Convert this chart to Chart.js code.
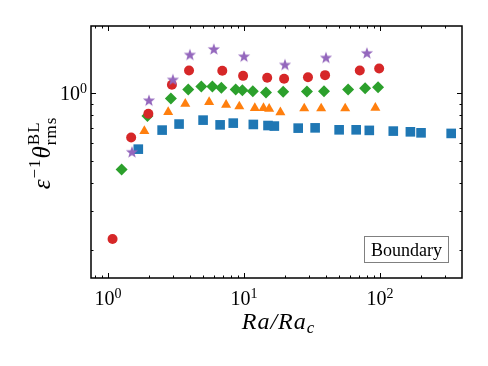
<!DOCTYPE html>
<html lang="en">

<head>
    <meta charset="UTF-8">
    <title>Boundary theta rms</title>
    <script src="https://cdn.jsdelivr.net/npm/chart.js"></script>
    <style>
        body { margin: 0; background: #fff; }
        #wrap { width: 488px; height: 366px; }
    </style>
</head>

<body>
    <div id="wrap"><canvas id="myChart"></canvas></div>
    <script>
        // Ra/Ra_c and eps^-1 theta_rms^BL
        var blueX = [1.67, 2.5, 3.33, 5.0, 6.67, 8.33, 11.7, 15.0, 16.7, 25.0, 33.3, 50.0, 66.7, 83.3, 125, 167, 200, 333];
        var blueY = [0.564, 0.686, 0.73, 0.76, 0.724, 0.737, 0.727, 0.719, 0.715, 0.70, 0.702, 0.688, 0.688, 0.684, 0.679, 0.674, 0.667, 0.663];

        var orangeX = [1.85, 2.77, 3.7, 5.54, 7.38, 9.23, 12.0, 13.9, 15.3, 18.5, 27.7, 36.9, 55.4, 92.3];
        var orangeY = [0.679, 0.825, 0.899, 0.915, 0.889, 0.875, 0.86, 0.86, 0.854, 0.823, 0.857, 0.857, 0.857, 0.863];

        var greenX = [1.26, 1.95, 2.9, 3.89, 4.85, 5.85, 6.81, 8.68, 9.72, 11.6, 14.5, 19.4, 29.0, 38.7, 58.2, 77.6, 96.6];
        var greenY = [0.458, 0.792, 0.95, 1.042, 1.074, 1.074, 1.059, 1.042, 1.034, 1.024, 1.01, 1.017, 1.02, 1.024, 1.042, 1.056, 1.067];

        var redX = [1.08, 1.48, 1.98, 2.95, 3.94, 6.92, 9.84, 14.8, 19.7, 29.5, 39.4, 70.9, 98.4];
        var redY = [0.224, 0.636, 0.811, 1.093, 1.267, 1.262, 1.198, 1.174, 1.162, 1.18, 1.207, 1.267, 1.293];

        var purpleX = [1.5, 2, 3, 4, 6, 10, 20, 40, 80];
        var purpleY = [0.549, 0.933, 1.155, 1.493, 1.58, 1.467, 1.347, 1.448, 1.518];

        var xMajor = [1, 10, 100];
        var xMajorExp = ['0', '1', '2'];
        var yMajor = [1];
        var yMajorExp = ['0'];
        var legendText = 'Boundary';

        var serif = '"Liberation Serif", "DejaVu Serif", serif';

        function pts(xs, ys) {
            return xs.map(function (v, i) { return { x: v, y: ys[i] }; });
        }

        // filled 5-point star like matplotlib '*'
        function makeStar(color) {
            var c = document.createElement('canvas');
            c.width = 14; c.height = 14;
            var g = c.getContext('2d');
            g.fillStyle = color;
            g.beginPath();
            for (var i = 0; i < 10; i++) {
                var r = i % 2 == 0 ? 6.4 : 2.6;
                var a = -Math.PI / 2 + i * Math.PI / 5;
                var px = 7 + r * Math.cos(a), py = 7.6 + r * Math.sin(a);
                if (i == 0) g.moveTo(px, py); else g.lineTo(px, py);
            }
            g.closePath();
            g.fill();
            return c;
        }

        // draw text pieces one after another: [text, font, dy, noAdvance]
        function drawParts(ctx, parts, x, y, align) {
            var w = 0;
            parts.forEach(function (p) {
                ctx.font = p[1];
                if (!p[3]) w += ctx.measureText(p[0]).width;
            });
            var cx = align == 'center' ? x - w / 2 : (align == 'right' ? x - w : x);
            parts.forEach(function (p) {
                ctx.font = p[1];
                ctx.fillText(p[0], cx, y + p[2]);
                if (!p[3]) cx += ctx.measureText(p[0]).width;
            });
        }

        function minorTicks(lo, hi) {
            var out = [];
            for (var d = Math.floor(Math.log10(lo)); d <= Math.ceil(Math.log10(hi)); d++) {
                for (var k = 2; k <= 9; k++) {
                    var v = k * Math.pow(10, d);
                    if (v > lo && v < hi) out.push(v);
                }
            }
            return out;
        }

        var frame = {
            id: 'frame',
            afterDatasetsDraw: function (chart) {
                var ctx = chart.ctx, a = chart.chartArea;
                var xs = chart.scales.x, ys = chart.scales.y;
                ctx.save();
                ctx.strokeStyle = '#000';
                ctx.lineWidth = 1;
                ctx.beginPath();
                function vt(v, len) {
                    var p = Math.round(xs.getPixelForValue(v)) + 0.5;
                    ctx.moveTo(p, a.bottom); ctx.lineTo(p, a.bottom - len);
                    ctx.moveTo(p, a.top); ctx.lineTo(p, a.top + len);
                }
                function ht(v, len) {
                    var p = Math.round(ys.getPixelForValue(v)) + 0.5;
                    ctx.moveTo(a.left, p); ctx.lineTo(a.left + len, p);
                    ctx.moveTo(a.right, p); ctx.lineTo(a.right - len, p);
                }
                xMajor.forEach(function (v) { vt(v, 5); });
                minorTicks(xs.min, xs.max).forEach(function (v) { vt(v, 2.5); });
                yMajor.forEach(function (v) { ht(v, 5); });
                minorTicks(ys.min, ys.max).forEach(function (v) { ht(v, 2.5); });
                ctx.stroke();

                ctx.lineWidth = 1.5;
                ctx.strokeRect(a.left, a.top, a.right - a.left, a.bottom - a.top);

                // tick labels
                ctx.fillStyle = '#000';
                ctx.textBaseline = 'alphabetic';
                xMajor.forEach(function (v, i) {
                    var p = xs.getPixelForValue(v);
                    drawParts(ctx, [['10', '20px ' + serif, 0], [xMajorExp[i], '14px ' + serif, -7]], p, a.bottom + 27, 'center');
                });
                yMajor.forEach(function (v, i) {
                    var p = ys.getPixelForValue(v);
                    drawParts(ctx, [['10', '20px ' + serif, 0], [yMajorExp[i], '14px ' + serif, -7]], a.left - 4, p + 7, 'right');
                });

                // axis titles
                ctx.letterSpacing = '1px';
                drawParts(ctx, [['Ra/Ra', 'italic 24px ' + serif, 0], ['c', 'italic 17px ' + serif, 4]],
                    (a.left + a.right) / 2 + 2, a.bottom + 51, 'center');

                ctx.save();
                ctx.translate(50, (a.top + a.bottom) / 2 + 1);
                ctx.rotate(-Math.PI / 2);
                drawParts(ctx, [
                    ['\u03b5', 'italic 25px ' + serif, 0],
                    ['\u22121', '17px ' + serif, -10],
                    ['\u03b8', 'italic 25px ' + serif, 0],
                    ['BL', '17px ' + serif, -11, true],
                    ['rms', '17px ' + serif, 6]
                ], 0, 0, 'center');
                ctx.restore();
                ctx.letterSpacing = '0px';

                // text-only legend box
                ctx.font = '18px ' + serif;
                var tw = ctx.measureText(legendText).width;
                var bw = Math.round(tw + 13);
                var bx = Math.round(a.right - 14 - bw), by = Math.round(a.bottom - 42);
                ctx.fillStyle = '#fff';
                ctx.fillRect(bx, by, bw, 26);
                ctx.strokeStyle = '#808080';
                ctx.lineWidth = 1;
                ctx.strokeRect(bx + 0.5, by + 0.5, bw, 26);
                ctx.fillStyle = '#000';
                ctx.fillText(legendText, bx + 7, by + 20);
                ctx.restore();
            }
        };

        var ctxEl = document.getElementById('myChart');
        var myChart = new Chart(ctxEl, {
            type: 'scatter',
            data: {
                datasets: [
                    { label: 'blue', data: pts(blueX, blueY), pointStyle: 'rect', pointRadius: 6.8, backgroundColor: '#1f77b4', borderColor: '#1f77b4', borderWidth: 0, order: 4 },
                    { label: 'orange', data: pts(orangeX, orangeY), pointStyle: 'triangle', pointRadius: 5.8, backgroundColor: '#ff7f0e', borderColor: '#ff7f0e', borderWidth: 0, order: 3 },
                    { label: 'green', data: pts(greenX, greenY), pointStyle: 'rectRot', pointRadius: 6.0, backgroundColor: '#2ca02c', borderColor: '#2ca02c', borderWidth: 0, order: 2 },
                    { label: 'red', data: pts(redX, redY), pointStyle: 'circle', pointRadius: 5.0, backgroundColor: '#d62728', borderColor: '#d62728', borderWidth: 0, order: 1 },
                    { label: 'purple', data: pts(purpleX, purpleY), pointStyle: makeStar('#9467bd'), pointRadius: 6, backgroundColor: '#9467bd', borderWidth: 0, order: 0 }
                ]
            },
            options: {
                responsive: true,
                maintainAspectRatio: false,
                animation: false,
                layout: { padding: { left: 91, right: 26, top: 26, bottom: 88 } },
                plugins: { legend: { display: false }, tooltip: { enabled: false } },
                scales: {
                    x: {
                        type: 'logarithmic', min: 0.75, max: 400,
                        ticks: { display: false }, grid: { display: false }, border: { display: false },
                        afterFit: function (s) { s.height = 0; }
                    },
                    y: {
                        type: 'logarithmic', min: 0.15, max: 2.0,
                        ticks: { display: false }, grid: { display: false }, border: { display: false },
                        afterFit: function (s) { s.width = 0; }
                    }
                }
            },
            plugins: [frame]
        });
    </script>
</body>

</html>
